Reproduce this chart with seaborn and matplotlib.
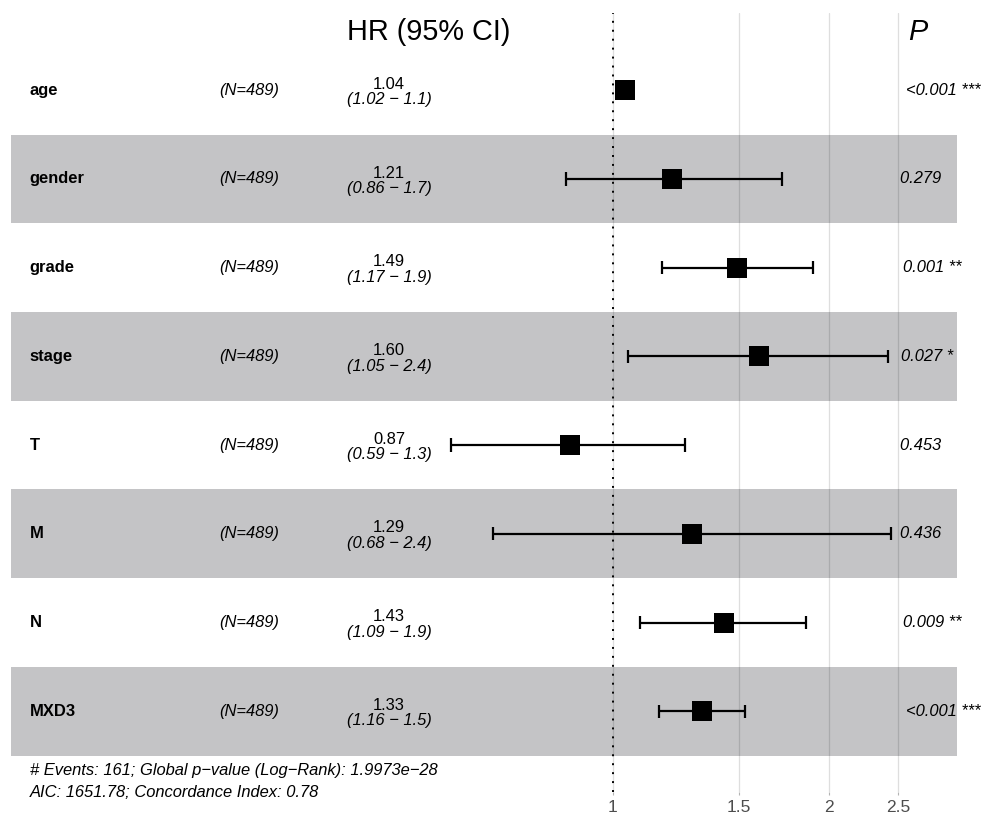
import numpy as np
import pandas as pd
import matplotlib
matplotlib.use("Agg")
import matplotlib.pyplot as plt
from matplotlib.patches import Rectangle
from matplotlib.ticker import FixedLocator, FixedFormatter, NullLocator
from matplotlib.transforms import offset_copy
import seaborn as sns

# ---- model summary (Cox proportional hazards, multivariate) ----
variables = ["age", "gender", "grade", "stage", "T", "M", "N", "MXD3"]
n_obs = [489, 489, 489, 489, 489, 489, 489, 489]
hr = [1.04, 1.21, 1.49, 1.60, 0.87, 1.29, 1.43, 1.33]
ci_low = [1.02, 0.86, 1.17, 1.05, 0.594, 0.68, 1.09, 1.16]
ci_high = [1.06, 1.72, 1.90, 2.42, 1.26, 2.44, 1.86, 1.53]
p_text = ["<0.001", "0.279", "0.001", "0.027", "0.453", "0.436", "0.009", "<0.001"]
p_stars = ["***", "", "**", "*", "", "", "**", "***"]
tick_values = [1, 1.5, 2, 2.5]
tick_labels = ["1", "1.5", "2", "2.5"]
n_events = 161
global_p = "1.9973e\u221228"
aic = 1651.78
concordance = 0.78

df = pd.DataFrame({
    "var": variables, "N": n_obs, "hr": hr,
    "low": ci_low, "high": ci_high,
    "row": np.arange(len(variables)),
})

sns.set_theme(style="white")
plt.rcParams["font.family"] = ["Liberation Sans", "DejaVu Sans"]

FS = 11.9
W, H = 984, 814
fig = plt.figure(figsize=(W / 100, H / 100), dpi=100)
fig.patch.set_facecolor("white")

# log-scale geometry in the style of survminer::ggforest
rangeb = np.log([df["low"].min(), df["high"].max()])
span = rangeb[1] - rangeb[0]
rangeplot = np.array([rangeb[0] - span, rangeb[1] + 0.15 * span])
width = rangeplot[1] - rangeplot[0]
x_variable = np.exp(rangeplot[0] + 0.02 * width)
x_nlevel = np.exp(rangeplot[0] + 0.22 * width)
x_cistring = np.exp(rangeplot[0] + 0.40 * width)
x_stars = np.exp(rangeb[1])
expand = 0.02 * width
lim = np.array([rangeplot[0] - expand, rangeplot[1] + expand])

# panel placement (pixels): x=1 at 613 px, 311.5 px per log unit
px_one, px_unit = 613.0, 311.5
left_px = px_one + lim[0] * px_unit
width_px = (lim[1] - lim[0]) * px_unit
top_px, bottom_px = 13.0, 792.0
ax = fig.add_axes([left_px / W, 1 - bottom_px / H, width_px / W, (bottom_px - top_px) / H])
ax.set_xscale("log")
ax.set_xlim(np.exp(lim))
ax.set_ylim(7.91, -0.87)
ax.set_facecolor("white")

# alternating row bands
for r in df["row"]:
    if r % 2 == 1:
        ax.add_patch(Rectangle((np.exp(rangeplot[0]), r - 0.5),
                               np.exp(rangeplot[1]) - np.exp(rangeplot[0]), 1.0,
                               facecolor="#00030b", alpha=0.23, edgecolor="none", zorder=1))

# hazard ratio squares and confidence intervals
sns.scatterplot(data=df, x="hr", y="row", marker="s", s=188, color="black",
                linewidth=0, legend=False, ax=ax, zorder=3)
ax.hlines(df["row"], df["low"], df["high"], color="black", lw=1.6, zorder=4)
cap = 0.075
ax.vlines(df["low"], df["row"] - cap, df["row"] + cap, color="black", lw=1.6, zorder=4)
ax.vlines(df["high"], df["row"] - cap, df["row"] + cap, color="black", lw=1.6, zorder=4)
ax.axvline(1, color="black", lw=1.4, linestyle=(0, (1, 3.6)), zorder=5)

# axes styling
ax.grid(axis="x", color="#DEDEDE", lw=0.9, zorder=0)
ax.grid(axis="y", visible=False)
ax.set_axisbelow(True)
for s in ax.spines.values():
    s.set_visible(False)
ax.xaxis.set_major_locator(FixedLocator(tick_values))
ax.xaxis.set_major_formatter(FixedFormatter(tick_labels))
ax.xaxis.set_minor_locator(NullLocator())
ax.tick_params(axis="x", bottom=True, length=2.2, width=0.8, color="#B3B3B3",
               labelcolor="#4D4D4D", labelsize=12.5, pad=3.2)
ax.set_yticks([])
ax.set_xlabel("")
ax.set_ylabel("")

# text columns
for _, rec in df.iterrows():
    r = rec["row"]
    ax.text(x_variable, r, rec["var"], ha="left", va="center", fontsize=FS,
            fontweight="bold", color="black", zorder=6)
    ax.text(x_nlevel, r, f"(N={rec['N']})", ha="left", va="center", fontsize=FS,
            fontstyle="italic", color="black", zorder=6)
    ax.text(x_cistring, r - 0.015, f"{rec['hr']:.2f}", ha="center", va="baseline",
            fontsize=FS, color="black", zorder=6)
    ax.text(x_cistring, r + 0.16, f"({rec['low']:.2f} \u2212 {rec['high']:.1f})",
            ha="center", va="baseline", fontsize=FS, fontstyle="italic",
            color="black", zorder=6)

# p-values, left-justified with a small proportional shift
p_artists = []
for r, pt, st in zip(df["row"], p_text, p_stars):
    t = ax.text(x_stars, r, f"{pt} {st}", ha="left", va="center", fontsize=FS,
                fontstyle="italic", color="black", zorder=6)
    p_artists.append(t)
fig.canvas.draw()
renderer = fig.canvas.get_renderer()
for t in p_artists:
    w = t.get_window_extent(renderer).width
    t.set_transform(offset_copy(ax.transData, fig=fig, x=0.2 * w, y=0, units="dots"))

# column headers
fig.text(429 / W, 1 - 31.5 / H, "HR (95% CI)", ha="center", va="center",
         fontsize=20.8, color="black")
fig.text(908 / W, 1 - 31.5 / H, "P", ha="left", va="center",
         fontsize=20.8, fontstyle="italic", color="black")

# model summary footnote
foot = (f"# Events: {n_events}; Global p\u2212value (Log\u2212Rank): {global_p} \n"
        f"AIC: {aic:.2f}; Concordance Index: {concordance:.2f}")
ax.text(x_variable, 7.58, foot, ha="left", va="top", fontsize=FS,
        fontstyle="italic", color="black", linespacing=1.62, zorder=6)

fig.savefig("out.png", dpi=100, facecolor="white")
